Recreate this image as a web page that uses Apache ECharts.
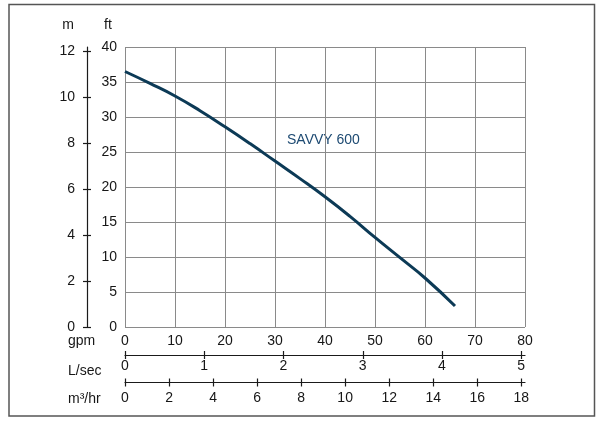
<!DOCTYPE html>
<html>
<head>
<meta charset="utf-8">
<script src="https://cdn.jsdelivr.net/npm/echarts@6/dist/echarts.min.js"></script>
<style>
html, body { margin: 0; padding: 0; background: #fff; }
#chart { width: 605px; height: 425px; }
</style>
</head>
<body>
<div id="chart"></div>
<script>
// pump curve data
var gpm = [0, 5, 10, 15, 20, 25, 30, 35, 40, 45, 50, 55, 60, 66];
var headFt = [36.5, 34.8, 33.0, 30.9, 28.6, 26.2, 23.7, 21.2, 18.6, 15.8, 12.8, 9.9, 7.0, 3.0];
var seriesName = 'SAVVY 600';

// secondary scales
var mTicks = [0, 2, 4, 6, 8, 10, 12];
var lsecTicks = [0, 1, 2, 3, 4, 5];
var m3hrTicks = [0, 2, 4, 6, 8, 10, 12, 14, 16, 18];

var FT_PER_M = 3.28084;
var GPM_PER_LSEC = 15.8503;
var GPM_PER_M3HR = 4.40287;

var gpmMax = 80, ftMax = 40;
var font = 'Liberation Sans, Arial, sans-serif';
var txt = '#161616';
var axisCol = '#1a1a1a';
var gridCol = '#8a8a8a';

var points = [];
for (var i = 0; i < gpm.length; i++) {
	points.push([gpm[i], headFt[i]]);
}

function hiddenY(idx) {
	return { type: 'value', gridIndex: idx, min: 0, max: 1, show: false };
}

function scaleAxis(gridIdx, max, ticks, inside, margin) {
	return {
		type: 'value',
		gridIndex: gridIdx,
		position: 'bottom',
		min: 0,
		max: max,
		axisLine: { show: !inside, lineStyle: { color: axisCol, width: 1.2 } },
		axisTick: {
			show: true, inside: inside, length: 4, customValues: ticks,
			lineStyle: { color: axisCol, width: 1.2 }
		},
		axisLabel: {
			show: !inside, customValues: ticks, margin: margin,
			color: txt, fontSize: 14, fontFamily: font
		},
		splitLine: { show: false }
	};
}

function mAxis(inside) {
	return {
		type: 'value',
		gridIndex: 0,
		position: 'left',
		offset: 38,
		min: 0,
		max: ftMax / FT_PER_M,
		axisLine: { show: !inside, lineStyle: { color: axisCol, width: 1.2 } },
		axisTick: {
			show: true, inside: inside, length: 4, customValues: mTicks,
			lineStyle: { color: axisCol, width: 1.2 }
		},
		axisLabel: {
			show: !inside, customValues: mTicks, margin: 12,
			color: txt, fontSize: 14, fontFamily: font
		},
		splitLine: { show: false }
	};
}

function unitText(x, y, text, align) {
	return {
		type: 'text', x: x, y: y,
		style: {
			text: text, fill: txt, fontSize: 14, fontFamily: font,
			textAlign: align || 'left', textVerticalAlign: 'middle'
		}
	};
}

var myChart = echarts.init(document.getElementById('chart'));

var option = {
	animation: false,
	backgroundColor: '#fff',
	grid: [
		{ left: 125, right: 80, top: 47, height: 280 },
		{ left: 125, right: 80, top: 345, height: 10 },
		{ left: 125, right: 80, top: 372, height: 10.5 }
	],
	xAxis: [
		{
			type: 'value',
			gridIndex: 0,
			min: 0,
			max: gpmMax,
			interval: 10,
			axisLine: { show: false },
			axisTick: { show: false },
			axisLabel: { margin: 7, color: txt, fontSize: 14, fontFamily: font },
			splitLine: { show: true, lineStyle: { color: gridCol, width: 1 } }
		},
		scaleAxis(1, gpmMax / GPM_PER_LSEC, lsecTicks, false, 4),
		scaleAxis(1, gpmMax / GPM_PER_LSEC, lsecTicks, true, 4),
		scaleAxis(2, gpmMax / GPM_PER_M3HR, m3hrTicks, false, 9),
		scaleAxis(2, gpmMax / GPM_PER_M3HR, m3hrTicks, true, 9)
	],
	yAxis: [
		{
			type: 'value',
			gridIndex: 0,
			min: 0,
			max: ftMax,
			interval: 5,
			axisLine: { show: false },
			axisTick: { show: false },
			axisLabel: { margin: 8, color: txt, fontSize: 14, fontFamily: font },
			splitLine: { show: true, lineStyle: { color: gridCol, width: 1 } }
		},
		mAxis(false),
		mAxis(true),
		hiddenY(1),
		hiddenY(2)
	],
	graphic: [
		{
			type: 'rect',
			shape: { x: 9, y: 4.5, width: 585.5, height: 411.5 },
			style: { fill: 'none', stroke: '#555', lineWidth: 1.5 }
		},
		unitText(68, 25, 'm', 'center'),
		unitText(108, 25, 'ft', 'center'),
		unitText(68, 341, 'gpm'),
		unitText(68, 371, 'L/sec'),
		unitText(68, 399, 'm³/hr'),
		{
			type: 'text', x: 287, y: 140,
			style: {
				text: seriesName, fill: '#1d4a72', fontSize: 14, fontFamily: font,
				textVerticalAlign: 'middle'
			}
		}
	],
	series: [
		{
			name: seriesName,
			type: 'line',
			xAxisIndex: 0,
			yAxisIndex: 0,
			data: points,
			smooth: true,
			showSymbol: false,
			lineStyle: { color: '#0c3a56', width: 3 }
		}
	]
};
myChart.setOption(option);
</script>
</body>
</html>
